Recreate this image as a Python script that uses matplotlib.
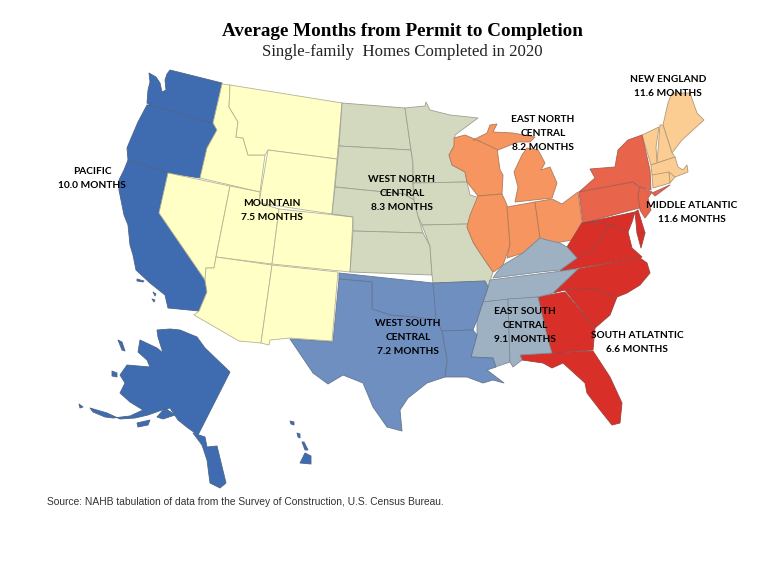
import matplotlib
matplotlib.use("Agg")
import matplotlib.pyplot as plt
from matplotlib.colors import to_rgb
from matplotlib.patches import Polygon

# Regional values
regions = ["PACIFIC", "MOUNTAIN", "WEST NORTH\nCENTRAL", "EAST NORTH\nCENTRAL", "NEW ENGLAND",
           "MIDDLE ATLANTIC", "SOUTH ATLATNTIC", "EAST SOUTH\nCENTRAL", "WEST SOUTH\nCENTRAL"]
months = [10.0, 7.5, 8.3, 8.2, 11.6, 11.6, 6.6, 9.1, 7.2]
region_colors = ["#3F6CB0", "#FFFFC6", "#D3D9BE", "#F6955F", "#FCCD92", "#E8644A", "#D82F28", "#9EB1C2", "#6E8FBF"]
label_xy = [(92, 172), (272, 204), (402, 180), (543, 119), (668, 79), (692, 205), (637, 336), (525, 312), (408, 324)]

# Outlines on the map's own planar grid
pacific = {
    "WA": [(149,73),(156,77),(160,83),(162,92),(166,90),(165,80),(167,74),(170,70),(222,83),(214,124),(150,105),(147,103),(148,90),(150,82)],
    "OR": [(147,105),(150,105),(214,124),(217,130),(207,148),(200,178),(168,173),(128,160),(127,148),(132,136),(138,122)],
    "CA": [(128,160),(168,173),(159,213),(205,280),(207,292),(199,311),(168,308),(165,295),(150,283),(136,270),(133,255),(130,245),(128,225),(124,215),(122,205),(119,190),(119,180),(124,170)],
    "AK": [(158,337),(157,330),(170,329),(180,330),(197,337),(205,348),(230,372),(198,435),(188,428),(178,420),(170,408),(162,410),(148,415),(135,418),(120,419),(107,413),(90,408),(93,412),(105,417),(113,418),(130,416),(143,410),(130,402),(120,393),(125,383),(120,375),(127,365),(150,367),(147,360),(138,352),(140,340),(157,348),(163,353)],
    "Kodiak": [(137,423),(150,420),(148,425),(138,427)],
    "Kenai": [(157,417),(165,408),(175,415),(163,419)],
    "Panhandle": [(193,433),(205,437),(207,447),(217,446),(226,483),(220,488),(210,483),(207,460),(202,445)],
    "StLawrence": [(118,340),(122,342),(125,351),(122,350)],
    "Nunivak": [(112,371),(117,373),(117,377),(112,376)],
    "Aleut": [(79,404),(83,407),(80,408)],
    "HI": [(300,463),(305,453),(311,456),(311,464)],
    "Maui": [(302,442),(304,442),(308,450),(305,450)],
    "Oahu": [(297,433),(300,434),(300,438),(298,437)],
    "Kauai": [(290,421),(294,422),(294,425),(291,424)],
    "Channel1": [(137,279),(144,281),(143,282),(137,281)],
    "Channel2": [(153,292),(156,294),(155,296)],
    "Channel3": [(152,299),(155,300),(154,302)],
}
mountain = {
    "ID": [(222,84),(230,85),(229,107),(238,122),(236,137),(243,138),(248,155),(265,155),(260,192),(200,178),(207,148),(217,130),(213,123)],
    "MT": [(230,85),(342,103),(337,159),(268,150),(265,155),(248,155),(243,138),(236,137),(238,122),(229,107)],
    "WY": [(268,150),(337,159),(332,214),(259,203)],
    "NV": [(168,173),(230,186),(216,257),(214,268),(206,268),(205,280),(159,213)],
    "UT": [(230,186),(260,192),(259,203),(279,209),(272,264),(216,257)],
    "CO": [(279,209),(353,217),(350,272),(272,264)],
    "AZ": [(216,257),(272,265),(261,343),(239,341),(194,315),(199,311),(207,292),(205,280),(206,268),(214,268)],
    "NM": [(272,265),(338,272),(332,341),(290,338),(270,340),(269,345),(261,343)],
}
west_north_central = {
    "ND": [(342,103),(405,108),(411,150),(339,146)],
    "SD": [(339,146),(411,150),(413,163),(413,183),(414,200),(404,194),(335,187)],
    "NE": [(335,187),(404,194),(414,200),(418,216),(423,233),(353,231),(353,217),(332,214)],
    "KS": [(353,231),(423,233),(430,246),(432,275),(350,272)],
    "MN": [(405,108),(425,106),(426,102),(430,110),(450,115),(478,118),(455,135),(454,146),(449,155),(452,165),(465,172),(467,182),(413,183),(413,163),(411,150)],
    "IA": [(413,183),(467,182),(470,195),(480,198),(471,215),(468,224),(422,225),(418,216),(414,200)],
    "MO": [(422,225),(468,224),(467,227),(473,242),(480,253),(493,272),(488,287),(485,281),(433,283),(432,275),(430,246)],
}
east_north_central = {
    "WI": [(454,138),(465,135),(477,140),(497,148),(500,170),(503,175),(502,194),(478,196),(467,182),(465,172),(452,165),(449,155),(454,146)],
    "UP": [(473,140),(487,133),(490,125),(497,124),(493,132),(513,133),(535,137),(530,142),(518,142),(503,148),(498,150),(477,140)],
    "MI": [(515,202),(518,187),(514,172),(522,155),(527,148),(538,150),(545,163),(541,170),(550,167),(557,183),(552,198)],
    "IL": [(478,196),(502,194),(507,205),(510,245),(503,265),(495,271),(493,272),(480,253),(473,242),(467,227),(470,215)],
    "IN": [(507,207),(535,202),(540,238),(523,253),(507,258),(510,245)],
    "OH": [(535,202),(552,199),(562,204),(578,192),(582,222),(572,240),(555,243),(540,238)],
}
new_england = {
    "ME": [(663,125),(668,103),(672,93),(690,93),(697,113),(704,120),(682,140),(672,153)],
    "NH": [(660,125),(663,125),(672,153),(675,157),(657,163)],
    "VT": [(642,135),(659,127),(656,147),(657,163),(651,165)],
    "MA": [(651,165),(675,157),(678,167),(683,170),(687,165),(688,172),(675,177),(652,175)],
    "CT": [(652,175),(669,172),(670,183),(653,188)],
    "RI": [(669,172),(675,177),(670,183)],
}
middle_atlantic = {
    "NY": [(642,135),(650,170),(651,190),(640,187),(633,182),(579,192),(595,178),(590,169),(615,167),(618,150),(628,140)],
    "LI": [(652,193),(670,185),(655,196)],
    "PA": [(579,192),(633,182),(640,188),(638,193),(643,207),(583,223)],
    "NJ": [(640,187),(652,192),(648,198),(651,210),(645,218),(640,210),(638,195)],
}
south_atlantic = {
    "WV": [(582,223),(598,222),(610,225),(593,250),(577,258),(567,247)],
    "MD": [(583,223),(635,212),(632,222),(628,232),(610,225),(598,222)],
    "DE": [(635,212),(638,210),(645,233),(637,233)],
    "ES": [(637,233),(645,233),(641,248)],
    "VA": [(560,271),(577,258),(593,250),(610,225),(628,232),(632,248),(642,257),(640,258),(578,268)],
    "NC": [(553,293),(578,269),(640,258),(647,263),(650,273),(640,285),(627,293),(617,297),(593,289),(565,290)],
    "SC": [(565,290),(593,289),(617,297),(610,315),(595,328)],
    "GA": [(538,297),(565,292),(595,328),(593,350),(552,353),(548,340)],
    "FL": [(520,355),(552,353),(593,351),(610,377),(622,403),(620,423),(612,425),(600,410),(587,393),(585,383),(563,363),(552,368),(543,363),(522,360)],
}
east_south_central = {
    "KY": [(493,278),(497,272),(503,265),(523,253),(540,238),(547,240),(560,243),(567,247),(577,258),(560,270),(540,272)],
    "TN": [(490,280),(578,269),(553,293),(538,297),(483,302),(488,288)],
    "MS": [(483,302),(508,299),(510,362),(495,367),(493,358),(471,357),(477,335),(477,320)],
    "AL": [(508,299),(538,297),(548,340),(552,353),(520,355),(522,360),(513,367),(510,362)],
}
west_south_central = {
    "OK": [(339,273),(433,283),(435,293),(436,320),(413,317),(390,315),(372,309),(372,282),(339,279)],
    "AR": [(433,283),(485,281),(488,287),(483,302),(477,320),(473,330),(442,331),(436,320)],
    "LA": [(442,331),(473,330),(477,335),(471,357),(493,358),(496,367),(487,370),(504,383),(493,380),(483,383),(467,377),(445,377),(447,360)],
    "TX": [(339,279),(372,282),(372,309),(390,315),(413,317),(436,320),(442,331),(447,360),(445,377),(427,383),(408,398),(400,410),(402,431),(387,427),(373,407),(363,383),(343,375),(328,384),(313,373),(290,339),(333,342)],
}
region_shapes = [pacific, mountain, west_north_central, east_north_central, new_england,
                 middle_atlantic, south_atlantic, east_south_central, west_south_central]

title = "Average Months from Permit to Completion"
subtitle = "Single-family  Homes Completed in 2020"
source = "Source: NAHB tabulation of data from the Survey of Construction, U.S. Census Bureau."


def edge_of(color):
    r, g, b = to_rgb(color)
    return (0.55 * r + 0.45 * 0.35, 0.55 * g + 0.45 * 0.35, 0.55 * b + 0.45 * 0.35)


fig = plt.figure(figsize=(7.68, 5.76), dpi=100)
ax = fig.add_axes([0, 0, 1, 1])
ax.set_xlim(0, 768)
ax.set_ylim(576, 0)
ax.axis("off")

for shapes, color in zip(region_shapes, region_colors):
    for pts in shapes.values():
        ax.add_patch(Polygon(pts, closed=True, facecolor=color, edgecolor=edge_of(color),
                             linewidth=0.6, joinstyle="round"))

for name, value, (x, y) in zip(regions, months, label_xy):
    lines = name.split("\n") + [f"{value:.1f} MONTHS"]
    for i, line in enumerate(lines):
        ax.text(x, y + i * 14, line, ha="center", va="center", fontsize=7.3,
                fontweight="bold", family="Lato", color="black")

ax.text(402, 31, title, ha="center", va="center", fontsize=13.8, fontweight="bold",
        family="Liberation Serif", color="black")
ax.text(402, 52, subtitle, ha="center", va="center", fontsize=12.1,
        family="Liberation Serif", color="#222222")
ax.text(47, 502, source, ha="left", va="center", fontsize=7.4,
        family="Liberation Sans", color="#333333")
fig.savefig("out.png", dpi=100)
